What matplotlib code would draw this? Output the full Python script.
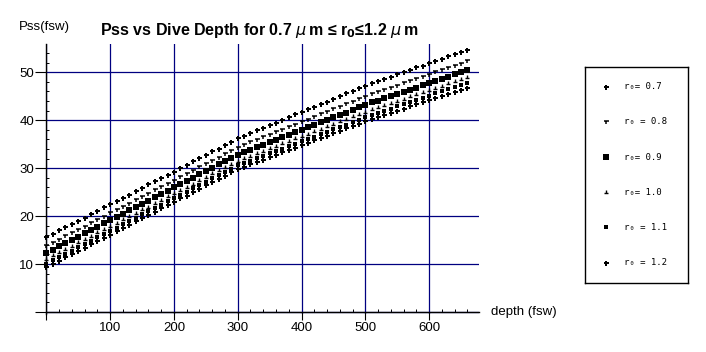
import matplotlib
matplotlib.use("Agg")
import matplotlib.pyplot as plt
from matplotlib.path import Path
from matplotlib.ticker import MultipleLocator, FixedLocator

# ---------------- data ----------------
depth = list(range(0, 670, 10))  # fsw

r0_labels = ["r\u2080= 0.7", "r\u2080 = 0.8", "r\u2080= 0.9",
             "r\u2080= 1.0", "r\u2080 = 1.1", "r\u2080 = 1.2"]

pss_07 = [15.6, 16.3, 17.0, 17.7, 18.3, 19.0, 19.7, 20.4, 21.1, 21.8,
          22.5, 23.2, 23.8, 24.5, 25.2, 25.9, 26.6, 27.3, 28.0, 28.6,
          29.3, 30.0, 30.7, 31.4, 32.1, 32.8, 33.5, 34.1, 34.8, 35.5,
          36.2, 36.8, 37.3, 37.9, 38.4, 39.0, 39.5, 40.1, 40.6, 41.2,
          41.7, 42.3, 42.8, 43.4, 43.9, 44.5, 45.0, 45.6, 46.1, 46.7,
          47.2, 47.7, 48.1, 48.6, 49.1, 49.6, 50.0, 50.5, 51.0, 51.4,
          51.9, 52.4, 52.8, 53.3, 53.8, 54.2, 54.7]
pss_08 = [13.7, 14.4, 15.1, 15.8, 16.4, 17.1, 17.8, 18.5, 19.2, 19.9,
          20.6, 21.3, 21.9, 22.6, 23.3, 24.0, 24.7, 25.4, 26.1, 26.7,
          27.4, 28.1, 28.8, 29.5, 30.2, 30.9, 31.6, 32.2, 32.9, 33.6,
          34.3, 34.8, 35.4, 35.9, 36.4, 37.0, 37.5, 38.0, 38.5, 39.1,
          39.6, 40.1, 40.7, 41.2, 41.7, 42.3, 42.8, 43.3, 43.8, 44.4,
          44.9, 45.4, 45.8, 46.3, 46.8, 47.2, 47.7, 48.1, 48.6, 49.1,
          49.5, 50.0, 50.5, 50.9, 51.4, 51.8, 52.3]
pss_09 = [12.3, 13.0, 13.7, 14.4, 15.0, 15.7, 16.4, 17.1, 17.8, 18.5,
          19.1, 19.8, 20.5, 21.2, 21.9, 22.6, 23.2, 23.9, 24.6, 25.3,
          26.0, 26.7, 27.3, 28.0, 28.7, 29.4, 30.1, 30.8, 31.4, 32.1,
          32.8, 33.3, 33.8, 34.4, 34.9, 35.4, 35.9, 36.4, 37.0, 37.5,
          38.0, 38.5, 39.0, 39.6, 40.1, 40.6, 41.1, 41.6, 42.2, 42.7,
          43.2, 43.7, 44.1, 44.6, 45.0, 45.5, 45.9, 46.4, 46.8, 47.3,
          47.8, 48.2, 48.7, 49.1, 49.6, 50.0, 50.5]
pss_10 = [11.1, 11.8, 12.5, 13.2, 13.8, 14.5, 15.2, 15.9, 16.6, 17.3,
          17.9, 18.6, 19.3, 20.0, 20.7, 21.4, 22.0, 22.7, 23.4, 24.1,
          24.8, 25.5, 26.1, 26.8, 27.5, 28.2, 28.9, 29.6, 30.2, 30.9,
          31.6, 32.1, 32.6, 33.1, 33.6, 34.2, 34.7, 35.2, 35.7, 36.2,
          36.7, 37.2, 37.7, 38.2, 38.7, 39.3, 39.8, 40.3, 40.8, 41.3,
          41.8, 42.3, 42.7, 43.2, 43.6, 44.1, 44.5, 45.0, 45.4, 45.9,
          46.3, 46.8, 47.2, 47.7, 48.1, 48.6, 49.0]
pss_11 = [10.1, 10.8, 11.5, 12.2, 12.8, 13.5, 14.2, 14.9, 15.6, 16.3,
          16.9, 17.6, 18.3, 19.0, 19.7, 20.4, 21.0, 21.7, 22.4, 23.1,
          23.8, 24.5, 25.1, 25.8, 26.5, 27.2, 27.9, 28.6, 29.2, 29.9,
          30.6, 31.1, 31.6, 32.1, 32.6, 33.1, 33.6, 34.1, 34.6, 35.1,
          35.6, 36.1, 36.6, 37.1, 37.6, 38.1, 38.6, 39.1, 39.6, 40.1,
          40.6, 41.1, 41.5, 42.0, 42.4, 42.9, 43.3, 43.8, 44.2, 44.7,
          45.1, 45.6, 46.0, 46.5, 46.9, 47.4, 47.8]
pss_12 = [9.3, 10.0, 10.7, 11.4, 12.0, 12.7, 13.4, 14.1, 14.8, 15.5,
          16.1, 16.8, 17.5, 18.2, 18.9, 19.6, 20.2, 20.9, 21.6, 22.3,
          23.0, 23.7, 24.3, 25.0, 25.7, 26.4, 27.1, 27.8, 28.4, 29.1,
          29.8, 30.3, 30.8, 31.3, 31.8, 32.3, 32.8, 33.3, 33.8, 34.3,
          34.8, 35.3, 35.8, 36.3, 36.8, 37.3, 37.8, 38.3, 38.8, 39.3,
          39.8, 40.2, 40.7, 41.1, 41.6, 42.0, 42.4, 42.9, 43.3, 43.7,
          44.2, 44.6, 45.1, 45.5, 45.9, 46.4, 46.8]

series = [pss_07, pss_08, pss_09, pss_10, pss_11, pss_12]

x_major = [0, 100, 200, 300, 400, 500, 600]
x_labels = ["", "100", "200", "300", "400", "500", "600"]
y_major = [0, 10, 20, 30, 40, 50]
y_labels = ["", "10", "20", "30", "40", "50"]

# ---------------- marker styles ----------------
t_down = Path([(-1, 0.6), (1, 0.6), (0, 0.6), (0, -0.9)],
              [Path.MOVETO, Path.LINETO, Path.MOVETO, Path.LINETO])
t_up = Path([(-0.8, -0.6), (0.8, -0.6), (0, -0.6), (0, 0.8)],
            [Path.MOVETO, Path.LINETO, Path.MOVETO, Path.LINETO])

styles = [
    dict(marker="P", markersize=3.6, markeredgewidth=0, color="black"),
    dict(marker=t_down, markersize=3.6, markeredgewidth=1.1, color="black", fillstyle="none"),
    dict(marker="s", markersize=4.6, markeredgewidth=0, color="black"),
    dict(marker=t_up, markersize=2.8, markeredgewidth=1.0, color="black", fillstyle="none"),
    dict(marker="s", markersize=2.3, markeredgewidth=0, color="black"),
    dict(marker="P", markersize=3.6, markeredgewidth=0, color="black"),
]

plt.rcParams["font.family"] = ["Liberation Sans", "DejaVu Sans"]

fig = plt.figure(figsize=(7.06, 3.52), dpi=100)
fig.patch.set_facecolor("white")

W, H = 706.0, 352.0
ax = fig.add_axes([45.7 / W, (H - 314.4) / H, (479 - 45.7) / W, (314.4 - 44) / H])
ax.set_xlim(-1, 678.2)
ax.set_ylim(-0.5, 55.9)

for vals, st in zip(series, styles):
    ax.plot(depth, vals, linestyle="none", clip_on=False, zorder=3, **st)

for s in ["top", "right"]:
    ax.spines[s].set_visible(False)
ax.spines["left"].set_position(("data", 0))
ax.spines["bottom"].set_position(("data", 0))
for s in ["left", "bottom"]:
    ax.spines[s].set_linewidth(1.0)
    ax.spines[s].set_color("black")
    ax.spines[s].set_zorder(2.6)

ax.xaxis.set_major_locator(FixedLocator(x_major))
ax.set_xticklabels(x_labels)
ax.yaxis.set_major_locator(FixedLocator(y_major))
ax.set_yticklabels(y_labels)
ax.xaxis.set_minor_locator(MultipleLocator(20))
ax.yaxis.set_minor_locator(MultipleLocator(2))

ax.tick_params(axis="x", which="major", direction="out", length=5.8, width=0.8,
               pad=1.5, labelsize=9.5, colors="black")
ax.tick_params(axis="y", which="major", direction="out", length=7.9, width=0.8,
               pad=1.0, labelsize=9.5, colors="black")
ax.tick_params(axis="both", which="minor", direction="in", length=2.2, width=0.7,
               colors="black")

ax.set_axisbelow(True)
ax.grid(True, which="major", color="#000080", linewidth=0.9)

# texts
fig.text(19 / W, 1 - 27 / H, "Pss(fsw)", ha="left", va="center", fontsize=9.5)
fig.text(259 / W, 1 - 30 / H,
         "Pss vs Dive Depth for 0.7 $\\mu\\,$m \u2264 r$_\\mathbf{0}$\u22641.2 $\\mu\\,$m",
         ha="center", va="center", fontsize=11.5, fontweight="bold")
fig.text(491 / W, 1 - 312 / H, "depth (fsw)", ha="left", va="center", fontsize=9.5)

# legend box
lax = fig.add_axes([585 / W, (H - 282.7) / H, 103.3 / W, 215.4 / H])
lax.set_xlim(0, 1)
lax.set_ylim(0, 1)
lax.set_xticks([])
lax.set_yticks([])
for s in lax.spines.values():
    s.set_linewidth(1.0)
    s.set_color("black")
for i, (lab, st) in enumerate(zip(r0_labels, styles)):
    yy = 0.91 - i * 0.1634
    lax.plot([0.2], [yy], linestyle="none", **st)
    lax.text(0.38, yy, lab, ha="left", va="center", fontsize=6.5,
             family=["DejaVu Sans Mono"])

fig.savefig("out.png", dpi=100, facecolor="white")
